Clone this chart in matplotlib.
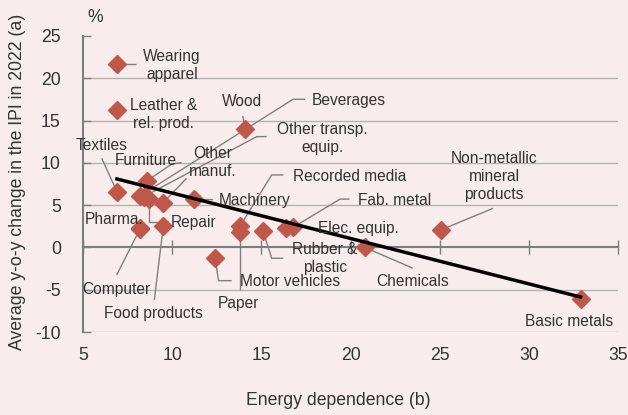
import numpy as np
import matplotlib
matplotlib.use("Agg")
import matplotlib.pyplot as plt

# Sector data: energy dependence (x) vs average y-o-y change in IPI 2022 (y)
sectors = ["Wearing\napparel", "Leather &\nrel. prod.", "Wood", "Beverages",
           "Other transp.\nequip.", "Textiles", "Furniture", "Other\nmanuf.",
           "Recorded media", "Machinery", "Fab. metal", "Elec. equip.",
           "Non-metallic\nmineral\nproducts", "Pharma.", "Repair",
           "Rubber &\nplastic", "Chemicals", "Computer", "Motor vehicles",
           "Food products", "Paper", "Basic metals"]
energy_dependence = [6.9, 6.9, 14.1, 8.2, 8.4, 6.9, 8.6, 9.5,
                     13.8, 11.2, 16.8, 16.4,
                     25.1, 8.2, 8.7,
                     15.1, 20.8, 8.2, 12.4,
                     9.5, 13.8, 32.9]
ipi_change = [21.7, 16.3, 14.0, 6.1, 6.0, 6.6, 7.9, 5.3,
              2.5, 5.7, 2.4, 2.3,
              2.1, 2.3, 5.7,
              1.9, 0.0, 2.2, -1.2,
              2.5, 1.8, -6.1]

x_ticks = [5, 10, 15, 20, 25, 30, 35]
y_ticks = [-10, -5, 0, 5, 10, 15, 20, 25]

# Label placement: text anchor (x, y), horizontal alignment, leader waypoints
label_layout = {
    "Wearing\napparel": ((9.99, 21.46), "center", [(7.97, 21.7)]),
    "Leather &\nrel. prod.": ((9.51, 15.73), "center", []),
    "Wood": ((13.94, 17.24), "center", [(13.96, 15.55)]),
    "Beverages": ((17.84, 17.36), "left", [(17.45, 17.52), (16.78, 17.52)]),
    "Other transp.\nequip.": ((18.43, 12.85), "center", [(15.30, 13.1), (14.74, 13.1)]),
    "Textiles": ((6.05, 12.04), "center", [(6.05, 10.55)]),
    "Furniture": ((8.55, 10.26), "center", [(10.53, 10.03), (9.99, 9.87)]),
    "Other\nmanuf.": ((12.3, 10.03), "center", [(10.81, 8.18)]),
    "Recorded media": ((16.75, 8.37), "left", [(16.24, 8.57), (15.58, 8.57)]),
    "Machinery": ((12.64, 5.53), "left", [(12.3, 5.65)]),
    "Fab. metal": ((20.44, 5.53), "left", [(19.94, 5.71), (19.41, 5.71)]),
    "Elec. equip.": ((18.2, 2.19), "left", []),
    "Non-metallic\nmineral\nproducts": ((28.05, 8.34), "center", [(28.0, 4.63)]),
    "Pharma.": ((6.74, 3.33), "center", []),
    "Repair": ((9.92, 2.93), "left", [(9.77, 3.05), (8.7, 3.05)]),
    "Rubber &\nplastic": ((18.57, -1.28), "center", [(16.23, -1.28), (15.58, -1.28)]),
    "Chemicals": ((23.49, -4.04), "center", [(23.49, -2.45)]),
    "Computer": ((6.85, -5.03), "center", [(6.89, -3.25)]),
    "Motor vehicles": ((13.8, -4.04), "left", [(13.34, -3.93), (12.6, -3.93)]),
    "Food products": ((8.92, -7.78), "center", [(9.0, -6.2)]),
    "Paper": ((13.74, -6.68), "center", [(13.8, -5.03)]),
    "Basic metals": ((32.28, -8.74), "center", []),
}

bg = "#f8ecec"
marker_col = "#c0584a"
text_col = "#333333"
axis_col = "#7d7d7d"
grid_col = "#b4b4b4"
leader_col = "#808080"

plt.rcParams["font.family"] = ["Liberation Sans", "DejaVu Sans"]
plt.rcParams["axes.unicode_minus"] = False

fig = plt.figure(figsize=(6.28, 4.15), dpi=100, facecolor=bg)
ax = fig.add_axes([83 / 628, 1 - 332 / 415, 535 / 628, 296 / 415], facecolor=bg)

ax.set_xlim(5, 35)
ax.set_ylim(-10, 25)

# horizontal grid, skipping the zero axis and the top value
for y in y_ticks:
    if y not in (0, 25):
        ax.axhline(y, color=grid_col, lw=1.0, zorder=1)

for side in ("top", "right"):
    ax.spines[side].set_visible(False)
ax.spines["left"].set_color(axis_col)
ax.spines["left"].set_linewidth(1.5)
ax.spines["bottom"].set_position(("data", 0))
ax.spines["bottom"].set_color(axis_col)
ax.spines["bottom"].set_linewidth(1.5)
ax.spines["bottom"].set_zorder(2)

ax.set_xticks(x_ticks)
ax.set_yticks(y_ticks)
ax.tick_params(axis="x", direction="inout", length=10, width=1, color=axis_col,
               labelbottom=False)
ax.tick_params(axis="y", direction="in", length=6, width=1, color=axis_col,
               labelsize=12.7, labelcolor=text_col, pad=16)

# x tick labels sit below the plotting area
sec = ax.secondary_xaxis(0.0)
sec.set_xticks(x_ticks)
sec.tick_params(length=0, pad=11, labelsize=12.7, labelcolor=text_col)
sec.spines["bottom"].set_visible(False)

# leader lines and sector labels
x_arr = np.array(energy_dependence)
y_arr = np.array(ipi_change)
for name, xv, yv in zip(sectors, energy_dependence, ipi_change):
    (tx, ty), ha, pts = label_layout[name]
    if pts:
        px = [p[0] for p in pts] + [xv]
        py = [p[1] for p in pts] + [yv]
        ax.plot(px, py, color=leader_col, lw=1.0, zorder=3, solid_capstyle="butt")
    ax.text(tx, ty, name, ha=ha, va="center", fontsize=11.2, color=text_col,
            linespacing=1.25, zorder=6, multialignment="center")

# linear fit
coef = np.polyfit(x_arr, y_arr, 1)
xf = np.array([x_arr.min(), x_arr.max()])
ax.plot(xf, np.polyval(coef, xf), color="black", lw=2.5, zorder=5)

ax.plot(x_arr, y_arr, linestyle="none", marker="D", markersize=8.7,
        color=marker_col, markeredgecolor=marker_col, zorder=4)

fig.text(95 / 628, 1 - 18 / 415, "%", ha="center", va="center", fontsize=12.7,
         color=text_col)
fig.text(18 / 628, 1 - 182 / 415, "Average y-o-y change in the IPI in 2022 (a)",
         rotation=90, ha="center", va="center", fontsize=12.7, color=text_col)
fig.text(338 / 628, 1 - 400 / 415, "Energy dependence (b)", ha="center",
         va="center", fontsize=12.7, color=text_col)

fig.savefig("out.png", dpi=100, facecolor=bg)
